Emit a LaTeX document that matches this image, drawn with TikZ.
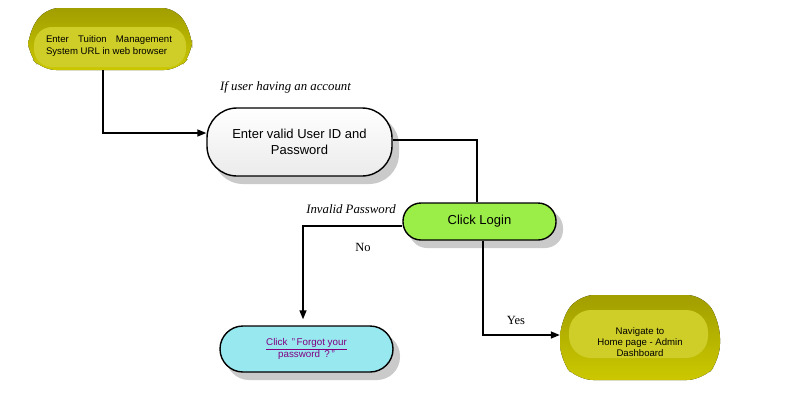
\documentclass[tikz,border=0pt]{standalone}
\usepackage{fontspec}
\setmainfont{Liberation Serif}
\setsansfont{Liberation Sans}
\usetikzlibrary{arrows.meta,calc}
\definecolor{yelDark}{HTML}{A19E00}
\definecolor{yelBody}{HTML}{CBC800}
\definecolor{yelLight}{HTML}{CFCE28}
\definecolor{loginGreen}{HTML}{9BEE48}
\definecolor{forgotCyan}{HTML}{98E8F0}
\definecolor{linkPurple}{HTML}{800080}
\definecolor{shadowGray}{HTML}{CACACA}
\tikzset{
  conn/.style={line width=1.4pt, draw=black},
  tipped/.style={conn, -{Triangle[length=9pt,width=7pt]}},
  lbl/.style={font=\fontsize{12.8}{14}\selectfont\itshape, inner sep=0pt},
  lblup/.style={font=\fontsize{12.5}{14}\selectfont, inner sep=0pt},
  smalltext/.style={font=\sffamily\fontsize{9.6}{12.5}\selectfont, align=center, inner sep=0pt},
  stadium/.style={draw=black, line width=1.4pt, font=\sffamily\fontsize{13}{15.5}\selectfont, align=center, inner sep=0pt},
}
\begin{document}
\begin{tikzpicture}[x=1pt,y=-1pt]
\useasboundingbox (0,0) rectangle (800,402);
% ---- start (3D yellow) ----
\fill[top color=yelDark,bottom color=yelBody,rounded corners=14pt]
  (45,8) -- (176,8) -- (192,34) -- (192,54) -- (178,70) -- (42,70) -- (28,54) -- (28,34) -- cycle;
\fill[yelLight,rounded corners=18pt] (34,27) rectangle (186,67);
\node[minimum width=164pt, minimum height=62pt, inner sep=0pt] (start) at (110,39) {};
\node[smalltext, text width=126pt, align=justify] at (109,46)
  {Enter\hfill Tuition\hfill Management\\System URL in web browser};
% ---- navigate (3D yellow) ----
\fill[top color=yelDark,bottom color=yelBody,rounded corners=16pt]
  (578,295) -- (703,295) -- (720,322) -- (720,360) -- (703,380) -- (577,380) -- (560,360) -- (560,322) -- cycle;
\fill[yelLight,rounded corners=22pt] (569,310) rectangle (708,358);
\node[minimum width=160pt, minimum height=80pt, inner sep=0pt] (nav) at (640,340) {};
\node[smalltext, font=\sffamily\fontsize{9.6}{11}\selectfont] at (640,342.5) {Navigate to\\Home page - Admin\\Dashboard};
% ---- shadows ----
\fill[shadowGray,rounded corners=30pt] (213,115) rectangle (399,184);
\fill[shadowGray,rounded corners=18pt] (409,210) rectangle (563,248);
\fill[shadowGray,rounded corners=23pt] (226,333) rectangle (400,380);
% ---- stadium nodes ----
\node[stadium, minimum width=185pt, minimum height=68pt, rounded corners=30pt,
      top color=white, bottom color=black!8] (cred) at (299.5,142)
  {Enter valid User ID and\\Password};
\node[stadium, minimum width=153pt, minimum height=37pt, rounded corners=18pt,
      fill=loginGreen] (login) at (479.5,221.5) {Click Login};
\node[stadium, minimum width=173pt, minimum height=46pt, rounded corners=23pt,
      fill=forgotCyan, font=\sffamily\fontsize{9.8}{12}\selectfont, text=linkPurple] (forgot) at (306.5,349)
  {\underline{Click \,"\,Forgot your}\\password \,?\,"};
% ---- connectors ----
\draw[tipped] ([xshift=-7pt]start.south) |- ([yshift=9pt]cred.west);
\draw[conn] ([yshift=2pt]cred.east) -| ([xshift=-2.5pt]login.north);
\draw[tipped, shorten >=6pt] ([yshift=-4.5pt]login.west) -| ([xshift=-3.5pt]forgot.north);
\draw[tipped] ([xshift=3.5pt]login.south) |- ([yshift=5pt]nav.west);
% ---- labels ----
\node[lbl] at (285.5,87) {If user having an account};
\node[lbl] at (351,209.5) {Invalid Password};
\node[lblup] at (363,247) {No};
\node[lblup] at (516,320) {Yes};
\end{tikzpicture}
\end{document}
